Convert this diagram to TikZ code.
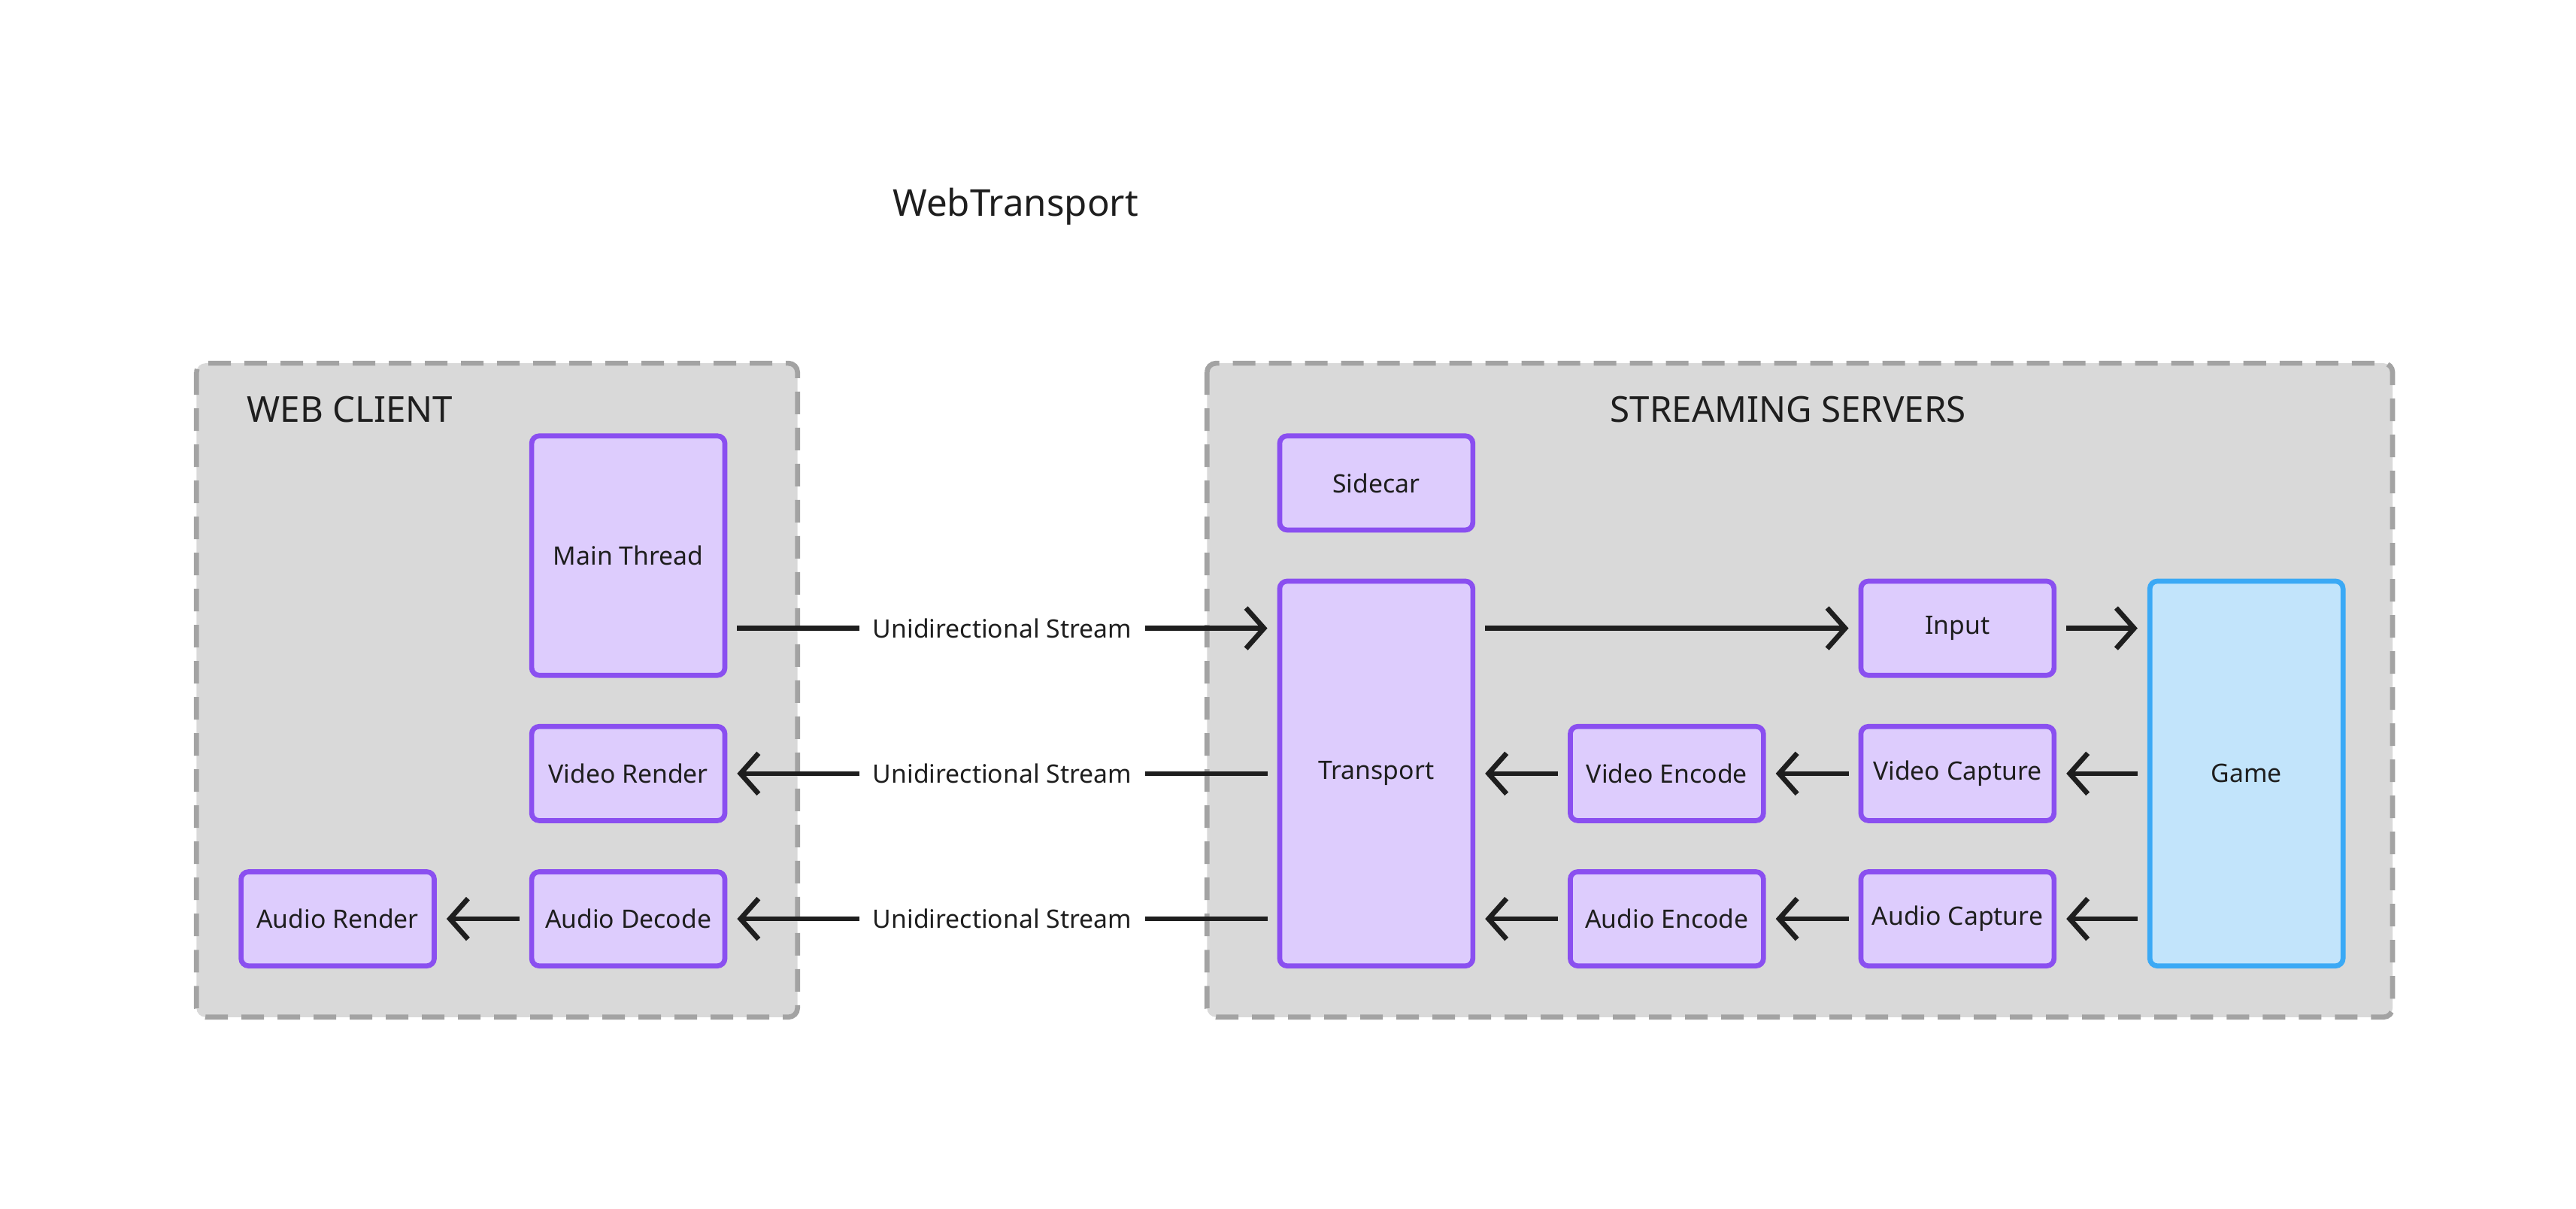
\documentclass[tikz,border=0pt]{standalone}
\usepackage{fontspec}
\setmainfont{Noto Sans}
\usetikzlibrary{arrows.meta}
\definecolor{grp}{HTML}{D9D9D9}
\definecolor{grpline}{HTML}{A3A3A3}
\definecolor{pfill}{HTML}{DDCCFD}
\definecolor{pline}{HTML}{8A4FF0}
\definecolor{gfill}{HTML}{C2E4FB}
\definecolor{gline}{HTML}{3BA9F5}
\definecolor{ink}{HTML}{1E1E1E}
\begin{document}
\begin{tikzpicture}[x=0.02196cm,y=-0.02196cm,
  grpbox/.style={draw=grpline,fill=grp,line width=1.9pt,dash pattern=on 3mm off 1.8mm,rounded corners=1.2mm},
  box/.style={draw=pline,fill=pfill,line width=1.9pt,rounded corners=1mm,inner sep=0pt,minimum width=2.569cm,font=\fontsize{9.6}{11}\selectfont,text=ink},
  small/.style={box,minimum height=1.252cm},
  arr/.style={draw=ink,line width=1.9pt,-{Straight Barb[length=2.4mm,width=5.4mm,line width=1.9pt]},shorten >=1.3mm,shorten <=1.3mm},
  lab/.style={fill=white,inner xsep=5pt,font=\fontsize{9.6}{11}\selectfont,text=ink},
  title/.style={font=\bfseries\fontsize{13.5}{15}\selectfont,text=ink}]
\useasboundingbox (0,0) rectangle (1560.1,731.8);
\fill[white] (0,0) rectangle (1560.1,731.8);
\node[font=\fontsize{14}{16}\selectfont,text=ink] (wt) at (615,125) {WebTransport};
\draw[grpbox] (119,220) rectangle (483,616);
\draw[grpbox] (731,220) rectangle (1449,616);
\node[title] (wc) at (212,248) {WEB CLIENT};
\node[title] (ss) at (1083,248) {STREAMING SERVERS};
\node[box,minimum height=3.184cm] (main) at (380.5,336.5) {Main Thread};
\node[small] (vrender) at (380.5,468.5) {Video Render};
\node[small] (adecode) at (380.5,556.5) {Audio Decode};
\node[small] (arender) at (204.5,556.5) {Audio Render};
\node[small] (sidecar) at (833.5,292.5) {Sidecar};
\node[box,minimum height=5.117cm] (transport) at (833.5,468.5) {Transport};
\node[small] (input) at (1185.5,380.5) {Input};
\node[small] (vencode) at (1009.5,468.5) {Video Encode};
\node[small] (aencode) at (1009.5,556.5) {Audio Encode};
\node[small] (vcapture) at (1185.5,468.5) {Video Capture};
\node[small] (acapture) at (1185.5,556.5) {Audio Capture};
\node[box,draw=gline,fill=gfill,minimum height=5.117cm] (game) at (1360.5,468.5) {Game};
\draw[arr] (main.east |- input) -- node[lab]{Unidirectional Stream} (transport.west |- input);
\draw[arr] (transport.west |- vrender) -- node[lab]{Unidirectional Stream} (vrender.east);
\draw[arr] (transport.west |- adecode) -- node[lab]{Unidirectional Stream} (adecode.east);
\draw[arr] (adecode.west) -- (arender.east);
\draw[arr] (transport.east |- input) -- (input.west);
\draw[arr] (input.east) -- (game.west |- input);
\draw[arr] (game.west |- vcapture) -- (vcapture.east);
\draw[arr] (game.west |- acapture) -- (acapture.east);
\draw[arr] (vcapture.west) -- (vencode.east);
\draw[arr] (acapture.west) -- (aencode.east);
\draw[arr] (vencode.west) -- (transport.east |- vencode);
\draw[arr] (aencode.west) -- (transport.east |- aencode);
\end{tikzpicture}
\end{document}
